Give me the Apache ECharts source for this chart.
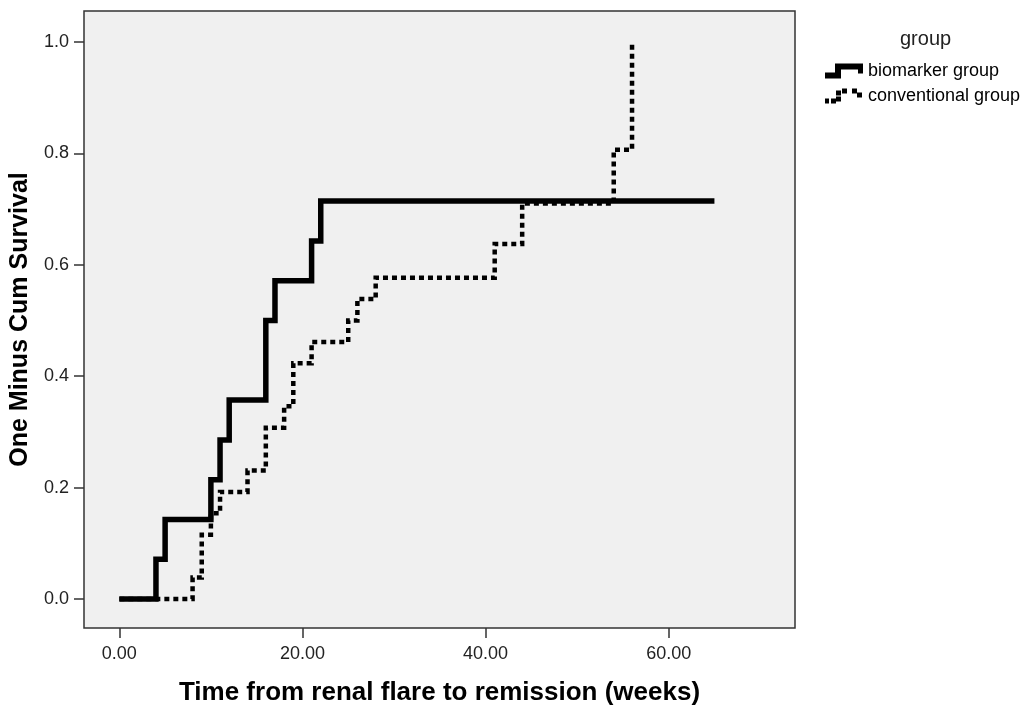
<!DOCTYPE html>
<html>
<head>
<meta charset="utf-8">
<script src="https://cdn.jsdelivr.net/npm/echarts@6/dist/echarts.min.js"></script>
<style>
  html, body { margin: 0; padding: 0; background: #fff; }
  #chart { width: 1032px; height: 709px; }
</style>
</head>
<body>
<div id="chart"></div>
<script>
// Kaplan-Meier step points: [week, one minus cum survival]
const biomarkerGroup = [
  [0, 0], [4, 0.0714], [5, 0.1429], [10, 0.2143], [11, 0.2857], [12, 0.3571],
  [16, 0.5], [17, 0.5714], [21, 0.6429], [22, 0.7143], [65, 0.7143]
];
const conventionalGroup = [
  [0, 0], [8, 0.0385], [9, 0.1154], [10, 0.1538], [11, 0.1923], [14, 0.2308],
  [16, 0.3077], [18, 0.3462], [19, 0.4231], [21, 0.4615], [25, 0.5], [26, 0.5385],
  [28, 0.5769], [41, 0.6374], [44, 0.7099], [54, 0.8066], [56, 1.0]
];
const xTicks = [0, 20, 40, 60];
const yTicks = [0, 0.2, 0.4, 0.6, 0.8, 1.0];
const groupNames = ['biomarker group', 'conventional group'];

// legend glyphs (step shapes like SPSS draws them)
const solidIcon = 'path://M0,9 L10,9 L10,0 L38,0 L38,10 L33,10 L33,6 L16,6 L16,15 L0,15 Z';
const dotIcon = 'path://M0,10h4v5h-4z M6,10h5v5h-5z M11,8h5v5h-5z M11,2h5v5h-5z M17,0h5v5h-5z' +
  ' M27,0h5v5h-5z M32,4h5v5h-5z M0,0h0.01v0.01h-0.01z M38,15h0.01v0.01h-0.01z';

const chart = echarts.init(document.getElementById('chart'));

const labelFont = { color: '#222', fontSize: 18, fontFamily: 'Liberation Sans, Arial, sans-serif' };

chart.setOption({
  animation: false,
  backgroundColor: '#fff',
  title: {
    text: 'group',
    left: 895,
    top: 24,
    textStyle: { color: '#222', fontSize: 20, fontWeight: 'normal', fontFamily: 'Liberation Sans, Arial, sans-serif' }
  },
  legend: {
    orient: 'vertical',
    left: 820,
    top: 57,
    itemWidth: 38,
    itemHeight: 15,
    itemGap: 7,
    symbolKeepAspect: false,
    textStyle: { color: '#000', fontSize: 18, fontFamily: 'Liberation Sans, Arial, sans-serif' },
    data: [
      { name: groupNames[0], icon: solidIcon, itemStyle: { color: '#000' } },
      { name: groupNames[1], icon: dotIcon, itemStyle: { color: '#000' } }
    ]
  },
  grid: {
    left: 84,
    right: 237,
    top: 11,
    bottom: 81,
    outerBoundsMode: 'none',
    containLabel: false,
    show: true,
    backgroundColor: '#f0f0f0',
    borderColor: '#333',
    borderWidth: 1.5
  },
  xAxis: {
    type: 'value',
    min: -3.86,
    max: 73.8,
    name: 'Time from renal flare to remission (weeks)',
    nameLocation: 'middle',
    nameGap: 52,
    nameMoveOverlap: false,
    nameTextStyle: { color: '#000', fontSize: 26, fontWeight: 'bold', fontFamily: 'Liberation Sans, Arial, sans-serif' },
    axisLine: { show: false, onZero: false },
    axisTick: { show: true, length: 10, customValues: xTicks, lineStyle: { color: '#333', width: 1.5 } },
    axisLabel: Object.assign({ customValues: xTicks, margin: 17, formatter: v => v.toFixed(2) }, labelFont),
    splitLine: { show: false }
  },
  yAxis: {
    type: 'value',
    min: -0.052,
    max: 1.0556,
    name: 'One Minus Cum Survival',
    nameLocation: 'middle',
    nameGap: 51,
    nameMoveOverlap: false,
    nameTextStyle: { color: '#000', fontSize: 25, fontWeight: 'bold', fontFamily: 'Liberation Sans, Arial, sans-serif' },
    axisLine: { show: false, onZero: false },
    axisTick: { show: true, length: 10, customValues: yTicks, lineStyle: { color: '#333', width: 1.5 } },
    axisLabel: Object.assign({ customValues: yTicks, margin: 15, formatter: v => v.toFixed(1) }, labelFont),
    splitLine: { show: false }
  },
  series: [
    {
      name: groupNames[1],
      type: 'line',
      step: 'end',
      data: conventionalGroup,
      showSymbol: false,
      symbol: 'none',
      z: 2,
      lineStyle: { color: '#000', width: 4.5, type: [5, 4], cap: 'butt', join: 'miter' },
      itemStyle: { color: '#000' }
    },
    {
      name: groupNames[0],
      type: 'line',
      step: 'end',
      data: biomarkerGroup,
      showSymbol: false,
      symbol: 'none',
      z: 3,
      lineStyle: { color: '#000', width: 5.5, cap: 'butt', join: 'miter' },
      itemStyle: { color: '#000' }
    }
  ]
});
</script>
</body>
</html>
